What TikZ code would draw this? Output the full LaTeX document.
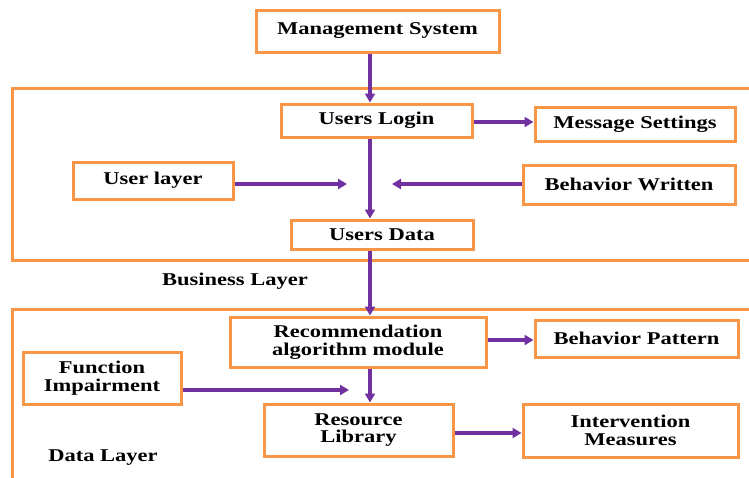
\documentclass[tikz,border=0pt]{standalone}
\usepackage{fontspec}
\setmainfont[FakeStretch=1.25]{Liberation Serif}
\usetikzlibrary{arrows.meta}
\definecolor{orng}{HTML}{F79646}
\definecolor{purp}{HTML}{7030A0}
\tikzset{
  box/.style={draw=orng, line width=3pt, fill=white, rectangle, inner sep=0pt, align=center,
    font=\bfseries\fontsize{18}{17.5}\selectfont},
  lbl/.style={font=\bfseries\fontsize{18}{17.5}\selectfont, inner sep=0pt},
  layer/.style={draw=orng, line width=3pt},
  conn/.style={draw=purp, line width=3.5pt, -{Triangle[length=9pt,width=10pt]}}
}
\begin{document}
\begin{tikzpicture}[x=1pt,y=-1pt]
\useasboundingbox (0,0) rectangle (749,477);
\begin{scope}
\clip (0,0) rectangle (749,477);
\draw[layer] (12,88) rectangle (770,260);
\draw[layer] (12,309) rectangle (770,500);
\end{scope}
\coordinate (vx) at (370,0);
\node[box, minimum width=243pt, minimum height=42pt] (ms) at (377.5,31) {\raisebox{2pt}{Management System}};
\node[box, minimum width=191pt, minimum height=33pt] (ul) at (376.5,120.5) {Users Login};
\node[box, minimum width=200pt, minimum height=34pt] (msg) at (635,124) {Message Settings};
\node[box, minimum width=160pt, minimum height=37pt] (ulay) at (153,180.5) {\raisebox{2pt}{User layer}};
\node[box, minimum width=212pt, minimum height=39pt] (bw) at (629,184.5) {Behavior Written};
\node[box, minimum width=182pt, minimum height=29pt] (ud) at (382,234.5) {\raisebox{-1.5pt}{Users Data}};
\node[lbl] (bl) at (235,281) {Business Layer};
\node[box, minimum width=256pt, minimum height=50pt] (rec) at (358,342) {Recommendation\\algorithm module};
\node[box, minimum width=203pt, minimum height=37pt] (bp) at (636.5,338.5) {Behavior Pattern};
\node[box, minimum width=158pt, minimum height=52pt] (fi) at (102,378) {Function\\Impairment};
\node[box, minimum width=189pt, minimum height=52pt] (rl) at (358.5,430) {Resource\\Library};
\node[box, minimum width=215pt, minimum height=53pt] (im) at (630.5,430.5) {Intervention\\Measures};
\node[lbl] (dl) at (103,458) {Data Layer};
\coordinate (a1) at (347,184);
\coordinate (a2) at (392,184);
\coordinate (a3) at (349,390);
\draw[conn] (ms.south -| vx) -- (ul.north -| vx);
\draw[conn] (ul.south -| vx) -- (ud.north -| vx);
\draw[conn] (ud.south -| vx) -- (rec.north -| vx);
\draw[conn] (rec.south -| vx) -- (rl.north -| vx);
\draw[conn] (ul.east |- 0,122) -- (msg.west |- 0,122);
\draw[conn] (ulay.east |- a1) -- (a1);
\draw[conn] (bw.west |- a2) -- (a2);
\draw[conn] (fi.east |- a3) -- (a3);
\draw[conn] (rec.east |- 0,340) -- (bp.west |- 0,340);
\draw[conn] (rl.east |- 0,433) -- (im.west |- 0,433);
\end{tikzpicture}
\end{document}
